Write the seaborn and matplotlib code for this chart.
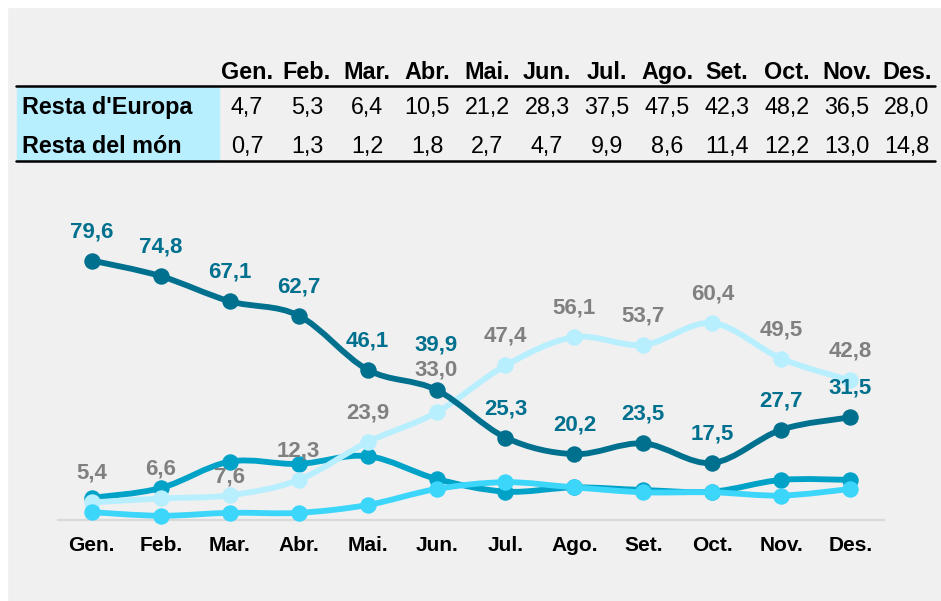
import numpy as np
import pandas as pd
import seaborn as sns
import matplotlib
matplotlib.use("Agg")
import matplotlib.pyplot as plt
from matplotlib.path import Path
from matplotlib.patches import PathPatch, Rectangle
from matplotlib.lines import Line2D

# ---------------- data ----------------
months = ["Gen.", "Feb.", "Mar.", "Abr.", "Mai.", "Jun.", "Jul.", "Ago.", "Set.", "Oct.", "Nov.", "Des."]
table_rows = ["Resta d'Europa", "Resta del món"]
resta_europa = [4.7, 5.3, 6.4, 10.5, 21.2, 28.3, 37.5, 47.5, 42.3, 48.2, 36.5, 28.0]
resta_mon = [0.7, 1.3, 1.2, 1.8, 2.7, 4.7, 9.9, 8.6, 11.4, 12.2, 13.0, 14.8]

serie_fosca = [79.6, 74.8, 67.1, 62.7, 46.1, 39.9, 25.3, 20.2, 23.5, 17.5, 27.7, 31.5]
serie_clara = [5.4, 6.6, 7.6, 12.3, 23.9, 33.0, 47.4, 56.1, 53.7, 60.4, 49.5, 42.8]
serie_mitjana = [6.8, 9.8, 17.9, 17.2, 19.6, 12.6, 8.7, 10.0, 9.2, 8.7, 12.3, 12.3]
serie_cian = [2.4, 1.3, 2.2, 2.2, 4.6, 9.5, 11.6, 10.0, 8.5, 8.5, 7.5, 9.5]

# ---------------- style ----------------
sns.set_style("white")
plt.rcParams["font.family"] = ["Liberation Sans", "DejaVu Sans"]

W, H, DPI = 941, 601, 100
BG = "#f0f0f0"
C_DARK = "#00708f"
C_MID = "#00a2c8"
C_CYAN = "#3dd6fb"
C_LIGHT = "#b8efff"
C_GRAY = "#808080"

fig = plt.figure(figsize=(W / DPI, H / DPI), dpi=DPI)
fig.patch.set_facecolor(BG)


def px(x, y):
    return x / W, 1 - y / H


# white strips top and left
fig.add_artist(Rectangle((0, 0), 7 / W, 1, transform=fig.transFigure, color="white", zorder=0))
fig.add_artist(Rectangle((0, 1 - 7 / H), 1, 7 / H, transform=fig.transFigure, color="white", zorder=0))

# ---------------- table ----------------
x0, y0 = px(17, 161)
x1, y1 = px(219, 87)
fig.add_artist(Rectangle((x0, y0), x1 - x0, y1 - y0, transform=fig.transFigure,
                         color="#b8efff", zorder=1))
for yy in (86, 161):
    a, b = px(16, yy), px(935, yy)
    fig.add_artist(Line2D([a[0], b[0]], [a[1], b[1]], transform=fig.transFigure,
                          color="black", lw=1.8, zorder=2))

TFS = 16.8
col_x = [247 + 60 * i for i in range(12)]
for i, m in enumerate(months):
    fig.text(*px(col_x[i], 72.5), m, ha="center", va="center", fontsize=TFS,
             fontweight="bold", color="black")
row_y = [107.5, 146.5]
for r, (name, vals) in enumerate(zip(table_rows, [resta_europa, resta_mon])):
    fig.text(*px(22, row_y[r]), name, ha="left", va="center", fontsize=TFS,
             fontweight="bold", color="black")
    for i, v in enumerate(vals):
        fig.text(*px(col_x[i], row_y[r]), f"{v:.1f}".replace(".", ","), ha="center",
                 va="center", fontsize=TFS, color="black")

# ---------------- chart ----------------
ax_left, ax_right = 58, 884
ax_bottom, ax_top = 520, 226.6
ax = fig.add_axes([ax_left / W, 1 - ax_bottom / H, (ax_right - ax_left) / W, (ax_bottom - ax_top) / H])
ax.set_facecolor("none")
ax.set_xlim(-0.49, 11.49)
ax.set_ylim(0, 90)
for s in ("top", "left", "right"):
    ax.spines[s].set_visible(False)
ax.spines["bottom"].set_color("#d9d9d9")
ax.spines["bottom"].set_linewidth(1.6)
ax.set_yticks([])
ax.set_xticks(range(12))
ax.set_xticklabels(months, fontsize=15, fontweight="bold", color="black")
ax.tick_params(axis="x", length=0, pad=11.5)

x = np.arange(12)


def smooth_path(xs, ys):
    pts = np.column_stack([xs, ys]).astype(float)
    n = len(pts)
    verts = [pts[0]]
    codes = [Path.MOVETO]
    for i in range(n - 1):
        p0 = pts[i - 1] if i > 0 else pts[i]
        p1 = pts[i]
        p2 = pts[i + 1]
        p3 = pts[i + 2] if i + 2 < n else pts[i + 1]
        c1 = p1 + (p2 - p0) / 6
        c2 = p2 - (p3 - p1) / 6
        verts += [c1, c2, p2]
        codes += [Path.CURVE4] * 3
    return Path(verts, codes)


series = [
    (serie_mitjana, C_MID, 3),
    (serie_clara, C_LIGHT, 4),
    (serie_cian, C_CYAN, 5),
    (serie_fosca, C_DARK, 6),
]
for vals, col, z in series:
    ax.add_patch(PathPatch(smooth_path(x, vals), facecolor="none", edgecolor=col,
                           lw=4.2, capstyle="round", joinstyle="round", zorder=z))
    df = pd.DataFrame({"mes": x, "valor": vals})
    sns.scatterplot(data=df, x="mes", y="valor", ax=ax, color=col, s=140,
                    edgecolor=col, linewidth=0, zorder=z + 0.5, clip_on=False, legend=False)
ax.set_xlabel("")
ax.set_ylabel("")

# data labels
LFS = 16
off_default = 29
off_dark = {5: 45}
off_light = {2: 18, 5: 42}
for i, v in enumerate(serie_fosca):
    off = off_dark.get(i, off_default) * 72 / DPI
    ax.annotate(f"{v:.1f}".replace(".", ","), (i, v), xytext=(0, off), textcoords="offset points",
                ha="center", va="center", fontsize=LFS, fontweight="bold", color=C_DARK, zorder=10)
for i, v in enumerate(serie_clara):
    off = off_light.get(i, off_default) * 72 / DPI
    ax.annotate(f"{v:.1f}".replace(".", ","), (i, v), xytext=(0, off), textcoords="offset points",
                ha="center", va="center", fontsize=LFS, fontweight="bold", color=C_GRAY, zorder=10)

fig.savefig("out.png", dpi=DPI, facecolor=fig.get_facecolor())
